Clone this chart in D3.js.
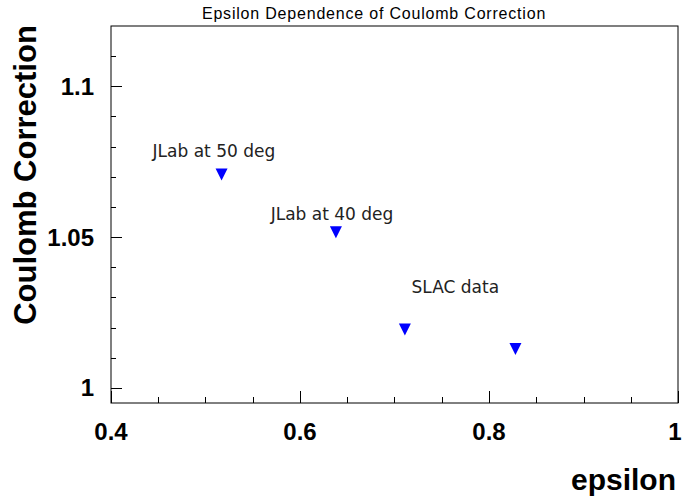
<!DOCTYPE html>
<html>
<head>
<meta charset="utf-8">
<script src="https://cdn.jsdelivr.net/npm/d3@7"></script>
<style>
  body { margin: 0; background: #fff; }
  svg { display: block; }
</style>
</head>
<body>
<div id="chart"></div>
<script>
// data
const epsilon = [0.517, 0.638, 0.711, 0.828];
const coulomb = [1.0708, 1.0516, 1.0194, 1.0129];

const labelText = ["JLab at 50 deg", "JLab at 40 deg", "SLAC data"];
const labelEps = [0.444, 0.569, 0.718];
const labelVal = [1.0764, 1.0558, 1.0316];

const xMajor = [0.4, 0.6, 0.8, 1];
const yMajor = [1, 1.05, 1.1];

const width = 683, height = 500;
const frameLeft = 111, frameRight = 678, frameTop = 26, frameBottom = 403;

const svg = d3.select("#chart").append("svg")
    .attr("width", width)
    .attr("height", height);

const x = d3.scaleLinear().domain([0.4, 1]).range([frameLeft, frameRight]);
const y = d3.scaleLinear().domain([0.995, 1.12]).range([frameBottom, frameTop]);

// frame
svg.append("rect")
    .attr("x", frameLeft).attr("y", frameTop)
    .attr("width", frameRight - frameLeft).attr("height", frameBottom - frameTop)
    .attr("fill", "none")
    .attr("stroke", "#000")
    .attr("stroke-width", 1);

// x axis ticks (inside, pointing up)
const xMinor = d3.range(0.4, 1.0001, 0.05).map(d => +d.toFixed(2));
svg.append("g").selectAll("line")
    .data(xMinor)
    .join("line")
    .attr("x1", d => Math.round(x(d)) + 0.5)
    .attr("x2", d => Math.round(x(d)) + 0.5)
    .attr("y1", frameBottom)
    .attr("y2", d => frameBottom - (xMajor.some(m => Math.abs(m - d) < 1e-6) ? 12 : 6))
    .attr("stroke", "#000");

// y axis ticks (inside, pointing right)
const yMinor = d3.range(1.0, 1.1101, 0.01).map(d => +d.toFixed(2));
svg.append("g").selectAll("line")
    .data(yMinor)
    .join("line")
    .attr("y1", d => Math.round(y(d)) + 0.5)
    .attr("y2", d => Math.round(y(d)) + 0.5)
    .attr("x1", frameLeft)
    .attr("x2", d => frameLeft + (yMajor.some(m => Math.abs(m - d) < 1e-6) ? 11 : 5))
    .attr("stroke", "#000");

// tick labels
svg.append("g").selectAll("text")
    .data(xMajor)
    .join("text")
    .attr("x", d => Math.min(x(d), width - 8))
    .attr("y", 440)
    .attr("text-anchor", "middle")
    .attr("font-family", "Liberation Sans, Arial, sans-serif")
    .attr("font-weight", "bold")
    .attr("font-size", 24)
    .text(d => d3.format("")(d));

svg.append("g").selectAll("text")
    .data(yMajor)
    .join("text")
    .attr("x", 94)
    .attr("y", d => y(d) + 8.5)
    .attr("text-anchor", "end")
    .attr("font-family", "Liberation Sans, Arial, sans-serif")
    .attr("font-weight", "bold")
    .attr("font-size", 24)
    .text(d => d3.format("")(d));

// axis titles
svg.append("text")
    .attr("x", 676)
    .attr("y", 490)
    .attr("text-anchor", "end")
    .attr("font-family", "Liberation Sans, Arial, sans-serif")
    .attr("font-weight", "bold")
    .attr("font-size", 30)
    .text("epsilon");

svg.append("text")
    .attr("transform", "translate(36,175) rotate(-90)")
    .attr("text-anchor", "middle")
    .attr("font-family", "Liberation Sans, Arial, sans-serif")
    .attr("font-weight", "bold")
    .attr("font-size", 31)
    .text("Coulomb Correction");

// title
svg.append("text")
    .attr("x", 374)
    .attr("y", 19)
    .attr("text-anchor", "middle")
    .attr("font-family", "Liberation Sans, Arial, sans-serif")
    .attr("font-size", 16)
    .attr("letter-spacing", 0.8)
    .text("Epsilon Dependence of Coulomb Correction");

// markers: filled downward triangles
const tri = d3.line();
svg.append("g").selectAll("path")
    .data(epsilon.map((e, i) => [e, coulomb[i]]))
    .join("path")
    .attr("d", d => {
        const cx = x(d[0]), cy = y(d[1]);
        return tri([[cx - 6, cy - 6], [cx + 6, cy - 6], [cx, cy + 6]]) + "Z";
    })
    .attr("fill", "#0000ff");

// annotations
svg.append("g").selectAll("text")
    .data(labelText)
    .join("text")
    .attr("x", (d, i) => x(labelEps[i]))
    .attr("y", (d, i) => y(labelVal[i]))
    .attr("font-family", "DejaVu Sans, sans-serif")
    .attr("font-size", 17)
    .attr("fill", "#222")
    .text(d => d);
</script>
</body>
</html>
